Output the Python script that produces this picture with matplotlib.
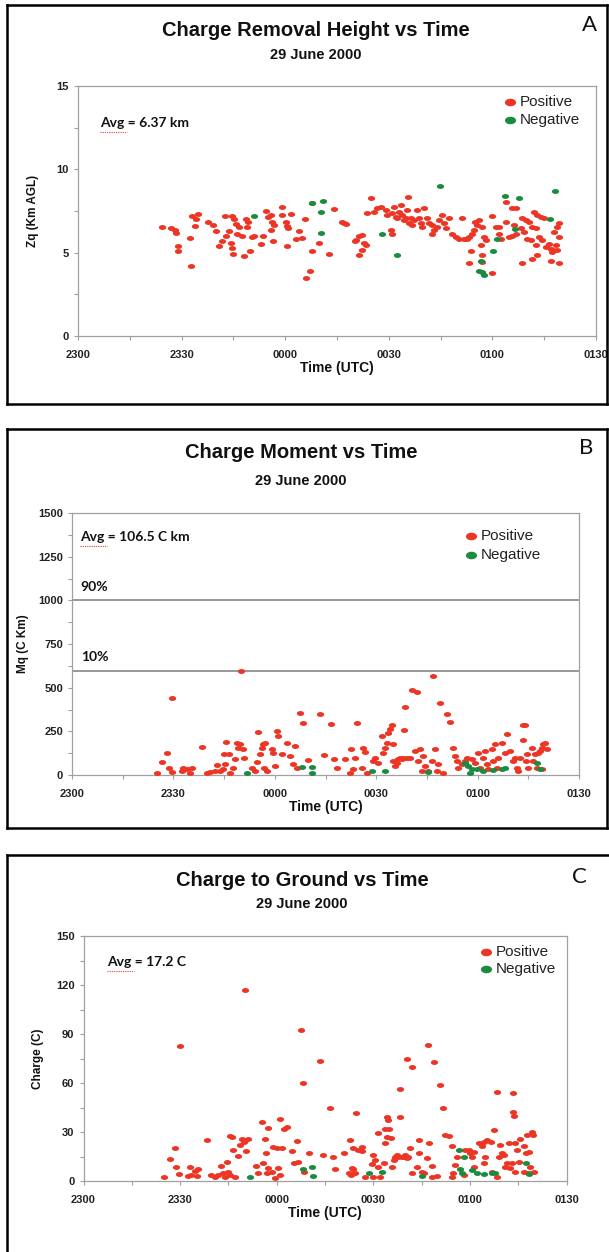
import numpy as np
import matplotlib
matplotlib.use("Agg")
import matplotlib.pyplot as plt
from matplotlib.path import Path
from matplotlib.lines import Line2D
from matplotlib.ticker import MultipleLocator, FixedLocator

# ---------------- data (time = minutes after 2300 UTC) ----------------
time_ticks = [0, 30, 60, 90, 120, 150]
time_labels = ['2300', '2330', '0000', '0030', '0100', '0130']

# Panel A: charge removal height (km AGL)
a_pos_t = [24.4, 26.8, 28.1, 28.5, 29.1, 29.0, 32.6, 32.3, 33.1, 34.8, 34.1, 33.9, 37.7, 39.1, 39.9,
           40.8, 41.8, 42.9, 43.7, 42.6, 44.7, 45.2, 45.7, 46.6, 46.1, 47.6, 44.2, 44.5, 44.9, 48.7,
           49.3, 49.0, 50.5, 51.0, 49.8, 48.2, 52.9, 53.6, 54.5, 55.1, 55.8, 56.1, 56.8, 55.8, 56.6,
           59.0, 59.2, 60.1, 60.6, 61.6, 60.9, 60.6, 63.0, 64.0, 65.0, 65.6, 67.8, 69.8, 67.7, 67.1,
           65.9, 72.7, 74.1, 76.5, 77.5, 77.0, 80.2, 81.4, 81.4,
           80.4, 82.3, 82.8, 83.3, 82.2, 84.8, 83.8, 85.7, 86.7, 87.7, 89.1, 89.6, 91.0, 91.5, 92.0,
           92.5, 93.0, 93.4, 93.9, 94.4, 94.9, 95.4, 95.7, 95.9, 96.3, 96.8, 97.3, 98.3, 98.8, 99.2,
           100.2, 99.7, 90.5, 91.0, 101.2, 101.7, 102.6, 103.1, 102.6, 104.1, 104.5, 105.5, 106.0,
           106.5, 107.4, 108.4, 109.4, 110.3, 111.3, 111.8, 112.7, 113.2, 114.2, 114.7, 115.0, 115.6,
           116.1, 117.1, 117.6, 116.6, 118.1, 113.7, 117.1, 113.2, 116.9, 119.8, 119.8, 121.0, 121.9,
           121.9, 122.4, 123.9, 123.9, 125.8, 126.8, 126.3, 124.8, 125.8, 126.8, 128.7, 129.6, 130.6,
           132.1, 133.0, 134.0, 135.0, 128.2, 129.2, 130.1, 131.1, 131.6, 132.5, 133.5, 134.5, 135.4,
           136.4, 136.9, 137.4, 138.3, 138.8, 137.9, 138.8, 139.3, 139.3, 132.5, 133.0, 131.6, 128.7,
           136.9, 139.3]
a_pos_z = [6.51, 6.45, 6.34, 6.18, 5.38, 5.08, 4.19, 5.90, 7.21, 7.31, 7.01, 6.61, 6.81, 6.65, 6.30,
           5.40, 5.68, 6.00, 6.30, 7.21, 7.21, 7.01, 6.71, 6.55, 6.14, 5.98, 5.60, 5.30, 4.89, 7.01,
           6.81, 6.55, 5.94, 6.00, 5.08, 4.79, 5.50, 6.00, 7.51, 7.11, 7.25, 6.81, 6.65, 6.34, 5.70,
           7.71, 7.25, 6.85, 6.61, 7.31, 6.49, 5.40, 5.80, 6.28, 5.90, 7.01, 8.00, 5.60, 5.08, 3.87,
           3.48, 4.89, 7.61, 6.81, 6.71, 6.75, 5.70, 6.00, 4.87,
           5.74, 6.08, 5.60, 5.44, 5.14, 8.26, 7.35, 7.45, 7.65, 7.75, 7.55, 7.25, 7.35, 7.75, 7.15,
           7.05, 7.45, 7.85, 7.25, 6.95, 7.05, 7.55, 8.32, 6.75, 7.05, 6.65, 6.95, 7.55, 7.05, 6.75,
           7.65, 6.55, 6.34, 6.14, 7.05, 6.75, 6.65, 6.34, 6.14, 6.55, 6.95, 7.25, 6.75,
           6.45, 7.05, 6.14, 5.92, 5.82, 7.05, 5.84, 5.82, 5.92, 6.14, 6.34, 6.85, 6.65,
           6.95, 6.55, 5.92, 5.44, 5.74, 5.08, 4.83, 4.39, 4.43, 3.79, 7.21, 6.55, 6.55,
           6.14, 5.84, 6.85, 8.02, 7.65, 7.65, 6.65, 5.92, 5.98, 6.14, 7.05, 6.95, 6.85,
           7.45, 7.25, 7.15, 7.05, 6.45, 6.24, 5.82, 5.74, 6.55, 6.45, 5.92, 5.74, 5.34,
           5.54, 5.24, 5.04, 5.44, 5.14, 6.24, 6.55, 5.92, 6.75, 5.44, 4.87, 4.59, 4.39,
           4.49, 4.39]
a_neg_t = [51.0, 67.7, 71.0, 70.3, 70.3, 88.1, 92.5, 104.7, 116.6, 116.1, 117.1, 117.6, 121.4, 120.2,
           123.7, 127.7, 126.5, 136.7, 138.1]
a_neg_z = [7.21, 7.96, 8.12, 7.45, 6.18, 6.10, 4.87, 9.02, 4.49, 3.87, 3.83, 3.67, 5.80, 5.08,
           8.42, 8.26, 6.39, 7.00, 8.72]

# Panel B: charge moment (C km)
b_pos_t = [25.1, 26.5, 28.2, 28.8, 29.5, 29.5, 32.4, 32.9, 33.9, 35.4, 34.9, 38.4, 39.8, 40.8, 42.3,
           42.8, 43.8, 44.6, 45.3, 45.0, 45.6, 46.5, 46.7, 47.7, 48.2, 48.7, 49.2, 49.7, 50.7, 50.9,
           50.0, 53.2, 54.1, 54.6, 55.1, 55.6, 56.1, 56.6, 57.1, 57.6, 56.8, 59.1, 59.6, 60.6, 60.1,
           61.0, 62.0, 63.5, 64.5, 66.0, 65.5, 66.5, 67.5, 68.2, 69.9, 73.4, 74.6, 76.5, 77.5, 78.3,
           80.8, 82.5, 84.4, 83.2, 82.2,
           83.7, 85.7, 86.2, 86.7, 87.2, 89.1, 89.6, 90.6, 91.6, 92.1, 92.6, 93.1, 93.6, 94.1, 94.6,
           94.9, 95.1, 95.6, 96.1, 96.5, 97.0, 97.5, 98.0, 98.2, 98.5, 99.0, 100.0, 100.5, 101.5,
           102.0, 102.5, 103.0, 103.5, 103.9, 104.4, 105.4, 106.4, 106.7, 107.4, 107.9, 108.4, 108.9,
           109.9, 110.8, 111.8, 112.8, 113.3, 113.8, 114.3, 115.3, 116.3, 116.8, 118.2, 119.2, 120.2,
           120.7, 121.7, 122.2, 122.7, 123.2, 124.2, 124.6, 125.1, 125.6, 126.1, 127.1, 128.1, 128.6,
           129.6, 130.6, 131.1, 131.6, 132.0, 132.5, 133.3, 134.0, 133.5, 134.3, 134.5, 135.0, 136.0,
           136.5, 137.0, 137.5, 138.0, 138.5, 139.0, 139.4, 139.9, 140.4, 139.0]
b_pos_m = [10, 76, 124, 42, 17, 441, 23, 38, 32, 42, 13, 162, 13, 17, 23,
           57, 23, 32, 61, 122, 188, 118, 13, 38, 89, 185, 156, 175, 147, 99,
           597, 42, 23, 74, 247, 118, 152, 175, 185, 23, 38, 147, 128, 251, 51,
           223, 118, 185, 108, 166, 61, 42, 356, 299, 86, 352, 114, 291, 89, 38,
           89, 147, 299, 32, 13,
           99, 42, 152, 133, 13, 80, 99, 70, 223, 128, 156, 185, 242, 261, 289,
           179, 80, 51, 70, 89, 99, 89, 99, 255, 388, 99, 99, 489, 137,
           476, 80, 146, 23, 108, 51, 23, 80, 569, 146, 23, 61, 413,
           13, 352, 304, 156, 108, 80, 42, 61, 80, 99, 89, 70, 128,
           42, 99, 137, 61, 32, 146, 80, 175, 42, 99, 185, 128, 232,
           137, 80, 99, 42, 23, 99, 289, 285, 200, 80, 118, 42, 156,
           80, 118, 42, 128, 137, 156, 175, 185, 146, 32]
b_neg_t = [51.7, 68.1, 70.9, 71.1, 88.7, 92.6, 105.4, 116.3, 117.3, 117.8, 118.2, 119.7, 121.7, 124.6,
           127.1, 128.1, 137.5, 138.5]
b_neg_m = [10, 48, 48, 13, 23, 23, 17, 67, 51, 10, 32, 32, 23, 27, 32, 38, 70, 32]
b_line_90 = 1000
b_line_10 = 597

# Panel C: charge to ground (C)
c_pos_t = [50.0, 29.9, 67.7, 73.5, 68.3, 76.6, 84.7, 24.9, 26.8, 28.3, 28.8, 29.6, 33.0, 33.5, 34.5,
           35.6, 32.5, 35.1, 38.4, 39.7, 40.8, 41.8, 42.8, 43.4, 43.9, 44.6, 44.9, 45.4, 46.0, 45.4,
           46.5, 47.0, 48.0, 48.6, 49.1, 49.8, 50.6, 51.1, 53.7, 54.3, 55.3, 55.8, 56.3, 56.9, 57.2,
           56.6, 57.4, 58.4, 58.9, 59.4, 60.0, 60.5, 61.0, 61.0, 61.8, 62.2, 63.1, 64.6, 65.4, 66.2,
           66.7, 68.6, 70.1, 74.5, 77.6, 78.1, 80.9, 82.8, 83.6, 82.3, 83.8, 83.0, 85.4,
           83.3, 84.3, 86.4, 86.4, 87.5, 90.0, 90.0, 90.6, 89.5, 91.6, 91.6, 92.1, 93.2, 93.7, 93.7,
           94.2, 94.2, 94.7, 95.0, 95.5, 95.8, 96.3, 96.8, 97.3, 97.8, 98.9, 99.4, 99.9, 100.4, 100.9,
           98.4, 98.4, 100.6, 102.0, 101.5, 102.0, 103.5, 104.1, 104.1, 105.1, 105.6, 106.7, 106.9,
           107.4, 108.2, 108.2, 108.9, 109.8, 110.6, 111.8, 112.4, 113.4, 114.4, 114.4, 114.9, 115.5,
           116.0, 118.6, 119.6, 120.1, 120.7, 121.2, 121.2, 122.7, 123.8, 124.3, 124.3, 124.8, 125.3,
           126.4, 126.9, 127.4, 128.4, 128.4, 129.0, 129.5, 130.0, 130.5, 131.0, 131.5, 132.1, 132.6,
           133.1, 133.3, 133.4, 133.8, 134.1, 134.1, 134.7, 135.2, 135.7, 136.7, 136.7, 137.3, 137.8,
           138.3, 138.3, 138.8, 139.3, 139.6, 139.8, 118.1]
c_pos_q = [117, 82.5, 92.5, 73.2, 60.0, 44.7, 41.9, 2.6, 13.2, 20.3, 8.3, 4.3, 8.7, 3.7, 6.3,
           7.1, 3.3, 3.1, 25.0, 3.7, 2.6, 3.7, 9.4, 4.7, 2.6, 11.8, 5.7, 3.7, 27.0, 27.6,
           18.9, 2.6, 15.5, 22.0, 25.6, 24.0, 18.3, 25.6, 9.2, 4.7, 36.2, 10.8, 25.6, 4.7, 32.7,
           17.3, 7.7, 5.7, 20.9, 1.6, 19.9, 8.1, 37.8, 3.7, 19.9, 31.7, 33.1, 18.5, 11.2, 24.6,
           11.4, 5.7, 17.3, 15.9, 14.4, 7.1, 17.3, 25.0, 19.9, 4.7, 7.1, 3.7, 18.9,
           7.7, 4.7, 20.9, 18.3, 2.2, 15.9, 2.6, 12.8, 10.4, 8.7, 29.1, 2.6, 10.8, 23.0, 32.1,
           27.0, 39.2, 37.2, 32.1, 26.6, 8.7, 12.8, 14.8, 15.9, 14.8, 14.8, 14.4, 15.9, 13.8, 14.8,
           39.2, 56.5, 74.8, 69.7, 20.5, 4.7, 8.7, 25.0, 16.9, 5.7, 4.7, 13.8, 83.4,
           23.0, 9.4, 2.6, 72.8, 3.3, 58.6, 44.9, 28.1, 27.4, 21.4, 2.6, 4.7, 9.8,
           14.8, 18.9, 18.9, 16.9, 14.8, 17.9, 8.7, 23.0, 21.4, 24.0, 10.8, 14.8, 25.0,
           24.0, 5.7, 31.1, 54.5, 2.6, 14.8, 21.9, 16.9, 15.9, 8.7, 10.8, 23.0, 7.7,
           10.8, 54.1, 42.3, 39.6, 23.0, 5.7, 18.9, 11.8, 25.6, 21.4, 5.7, 16.9, 28.1,
           17.9, 4.7, 8.7, 30.1, 28.1, 5.7, 3.7]
c_neg_t = [51.7, 68.1, 71.1, 71.4, 88.8, 92.6, 105.1, 116.5, 118.1, 117.0, 117.5, 120.7, 122.2, 124.3,
           126.9, 127.9, 137.3, 138.5]
c_neg_q = [2.6, 7.3, 8.7, 3.1, 5.1, 5.7, 3.1, 18.9, 14.4, 7.1, 4.7, 6.7, 4.7, 4.3,
           5.1, 4.7, 11.2, 4.3]

# ---------------- style ----------------
RED = '#EC3524'
GREEN = '#1A8C3F'
W, H = 609, 1252
ARIAL = ['Liberation Sans', 'DejaVu Sans']
GILL = ['Lato', 'DejaVu Sans']

th = np.linspace(0, 2 * np.pi, 48)
ELL = Path(np.column_stack([np.cos(th), 0.68 * np.sin(th)]), closed=True)

fig = plt.figure(figsize=(W / 100, H / 100), dpi=100)
fig.patch.set_facecolor('white')


def fxy(x, y):
    return x / W, 1 - y / H


def add_axes(x0, x1, ytop, ybot):
    return fig.add_axes([x0 / W, 1 - ybot / H, (x1 - x0) / W, (ybot - ytop) / H])


def ftext(x, y, s, **kw):
    fx, fy = fxy(x, y)
    fig.text(fx, fy, s, **kw)


def frame(x0, y0, x1, y1, sides='ltrb'):
    pts = {'l': ([x0, x0], [y0, y1]), 'r': ([x1, x1], [y0, y1]),
           't': ([x0, x1], [y0, y0]), 'b': ([x0, x1], [y1, y1])}
    for s in sides:
        xs, ys = pts[s]
        fig.add_artist(Line2D([x / W for x in xs], [1 - y / H for y in ys],
                              transform=fig.transFigure, color='black', lw=1.8))


def legend(x, y_pos, y_neg):
    for yy, col, lab in [(y_pos, RED, 'Positive'), (y_neg, GREEN, 'Negative')]:
        fx, fy = fxy(x, yy)
        fig.add_artist(Line2D([fx], [fy], transform=fig.transFigure, marker=ELL,
                              markersize=8, color=col, markeredgewidth=0, linestyle='none'))
        ftext(x + 10, yy, lab, fontsize=11, family=ARIAL, va='center', ha='left', color='#222')


def avg_text(x, y, s):
    ftext(x, y, s, fontsize=10, family=GILL, weight='bold', va='center', ha='left', color='#111')
    fx0, fy0 = fxy(x, y + 9)
    fx1, _ = fxy(x + 27, y + 9)
    fig.add_artist(Line2D([fx0, fx1], [fy0, fy0], transform=fig.transFigure, color='#E04040',
                          lw=0.8, linestyle=(0, (1, 1))))


def style_axes(ax, ylim, ymaj, ymin_, ylabel, ylab_x):
    ax.set_xlim(0, 150)
    ax.set_ylim(*ylim)
    ax.xaxis.set_major_locator(FixedLocator(time_ticks))
    ax.set_xticklabels(time_labels)
    ax.xaxis.set_minor_locator(MultipleLocator(15))
    ax.yaxis.set_major_locator(MultipleLocator(ymaj))
    ax.yaxis.set_minor_locator(MultipleLocator(ymin_))
    for sp in ax.spines.values():
        sp.set_color('#A0A0A0')
        sp.set_linewidth(0.9)
    ax.tick_params(axis='both', which='both', direction='out', length=3, width=0.8,
                   color='#A0A0A0', labelsize=8, labelcolor='#222')
    ax.tick_params(axis='x', pad=7)
    for lab in ax.get_xticklabels() + ax.get_yticklabels():
        lab.set_family(ARIAL)
        lab.set_weight('bold')
    ax.set_xlabel('Time (UTC)', fontsize=10, weight='bold', family=ARIAL, color='#111', labelpad=1)
    ax.set_ylabel(ylabel, fontsize=8.5, weight='bold', family=ARIAL, color='#111')
    ax.yaxis.set_label_coords(ylab_x, 0.5)


def scatter(ax, t, v, col):
    ax.plot(t, v, linestyle='none', marker=ELL, markersize=5.2, color=col,
            markeredgewidth=0, zorder=3)


def header(cx, ty, sy, title, letter, lx, ly):
    ftext(cx, ty, title, fontsize=14.5, weight='bold', family=ARIAL, ha='center', va='center',
          color='#111')
    ftext(cx, sy, '29 June 2000', fontsize=10.5, weight='bold', family=ARIAL, ha='center',
          va='center', color='#111')
    ftext(lx, ly, letter, fontsize=16, family=GILL, ha='center', va='center', color='#111')


# ---------------- Panel A ----------------
frame(7, 5, 607, 404)
header(316, 30, 55, 'Charge Removal Height vs Time', 'A', 590, 25)
axA = add_axes(78, 596, 86, 336)
scatter(axA, a_pos_t, a_pos_z, RED)
scatter(axA, a_neg_t, a_neg_z, GREEN)
style_axes(axA, (0, 15), 5, 2.5, 'Zq (Km AGL)', -0.075)
avg_text(100, 123, 'Avg = 6.37 km')
legend(510, 102, 120)

# ---------------- Panel B ----------------
frame(7, 429, 607, 828)
header(301, 453, 481, 'Charge Moment vs Time', 'B', 586, 448)
axB = add_axes(72, 579, 513, 775)
axB.axhline(b_line_90, color='#909090', lw=1.3, zorder=2)
axB.axhline(b_line_10, color='#909090', lw=1.3, zorder=2)
scatter(axB, b_pos_t, b_pos_m, RED)
scatter(axB, b_neg_t, b_neg_m, GREEN)
style_axes(axB, (0, 1500), 250, 125, 'Mq (C Km)', -0.085)
avg_text(80, 537, 'Avg = 106.5 C km')
ftext(80, 587, '90%', fontsize=10, family=GILL, weight='bold', va='center', ha='left', color='#111')
ftext(81, 657, '10%', fontsize=10, family=GILL, weight='bold', va='center', ha='left', color='#111')
legend(471, 536, 555)

# ---------------- Panel C ----------------
frame(7, 855, 620, 1260, sides='lt')
header(302, 880, 904, 'Charge to Ground vs Time', 'C', 579, 877)
axC = add_axes(83.5, 566.5, 936, 1181)
scatter(axC, c_pos_t, c_pos_q, RED)
scatter(axC, c_neg_t, c_neg_q, GREEN)
style_axes(axC, (0, 150), 30, 15, 'Charge (C)', -0.082)
avg_text(107, 962, 'Avg = 17.2 C')
legend(486, 952, 969)

fig.savefig('out.png', dpi=100, facecolor='white')
